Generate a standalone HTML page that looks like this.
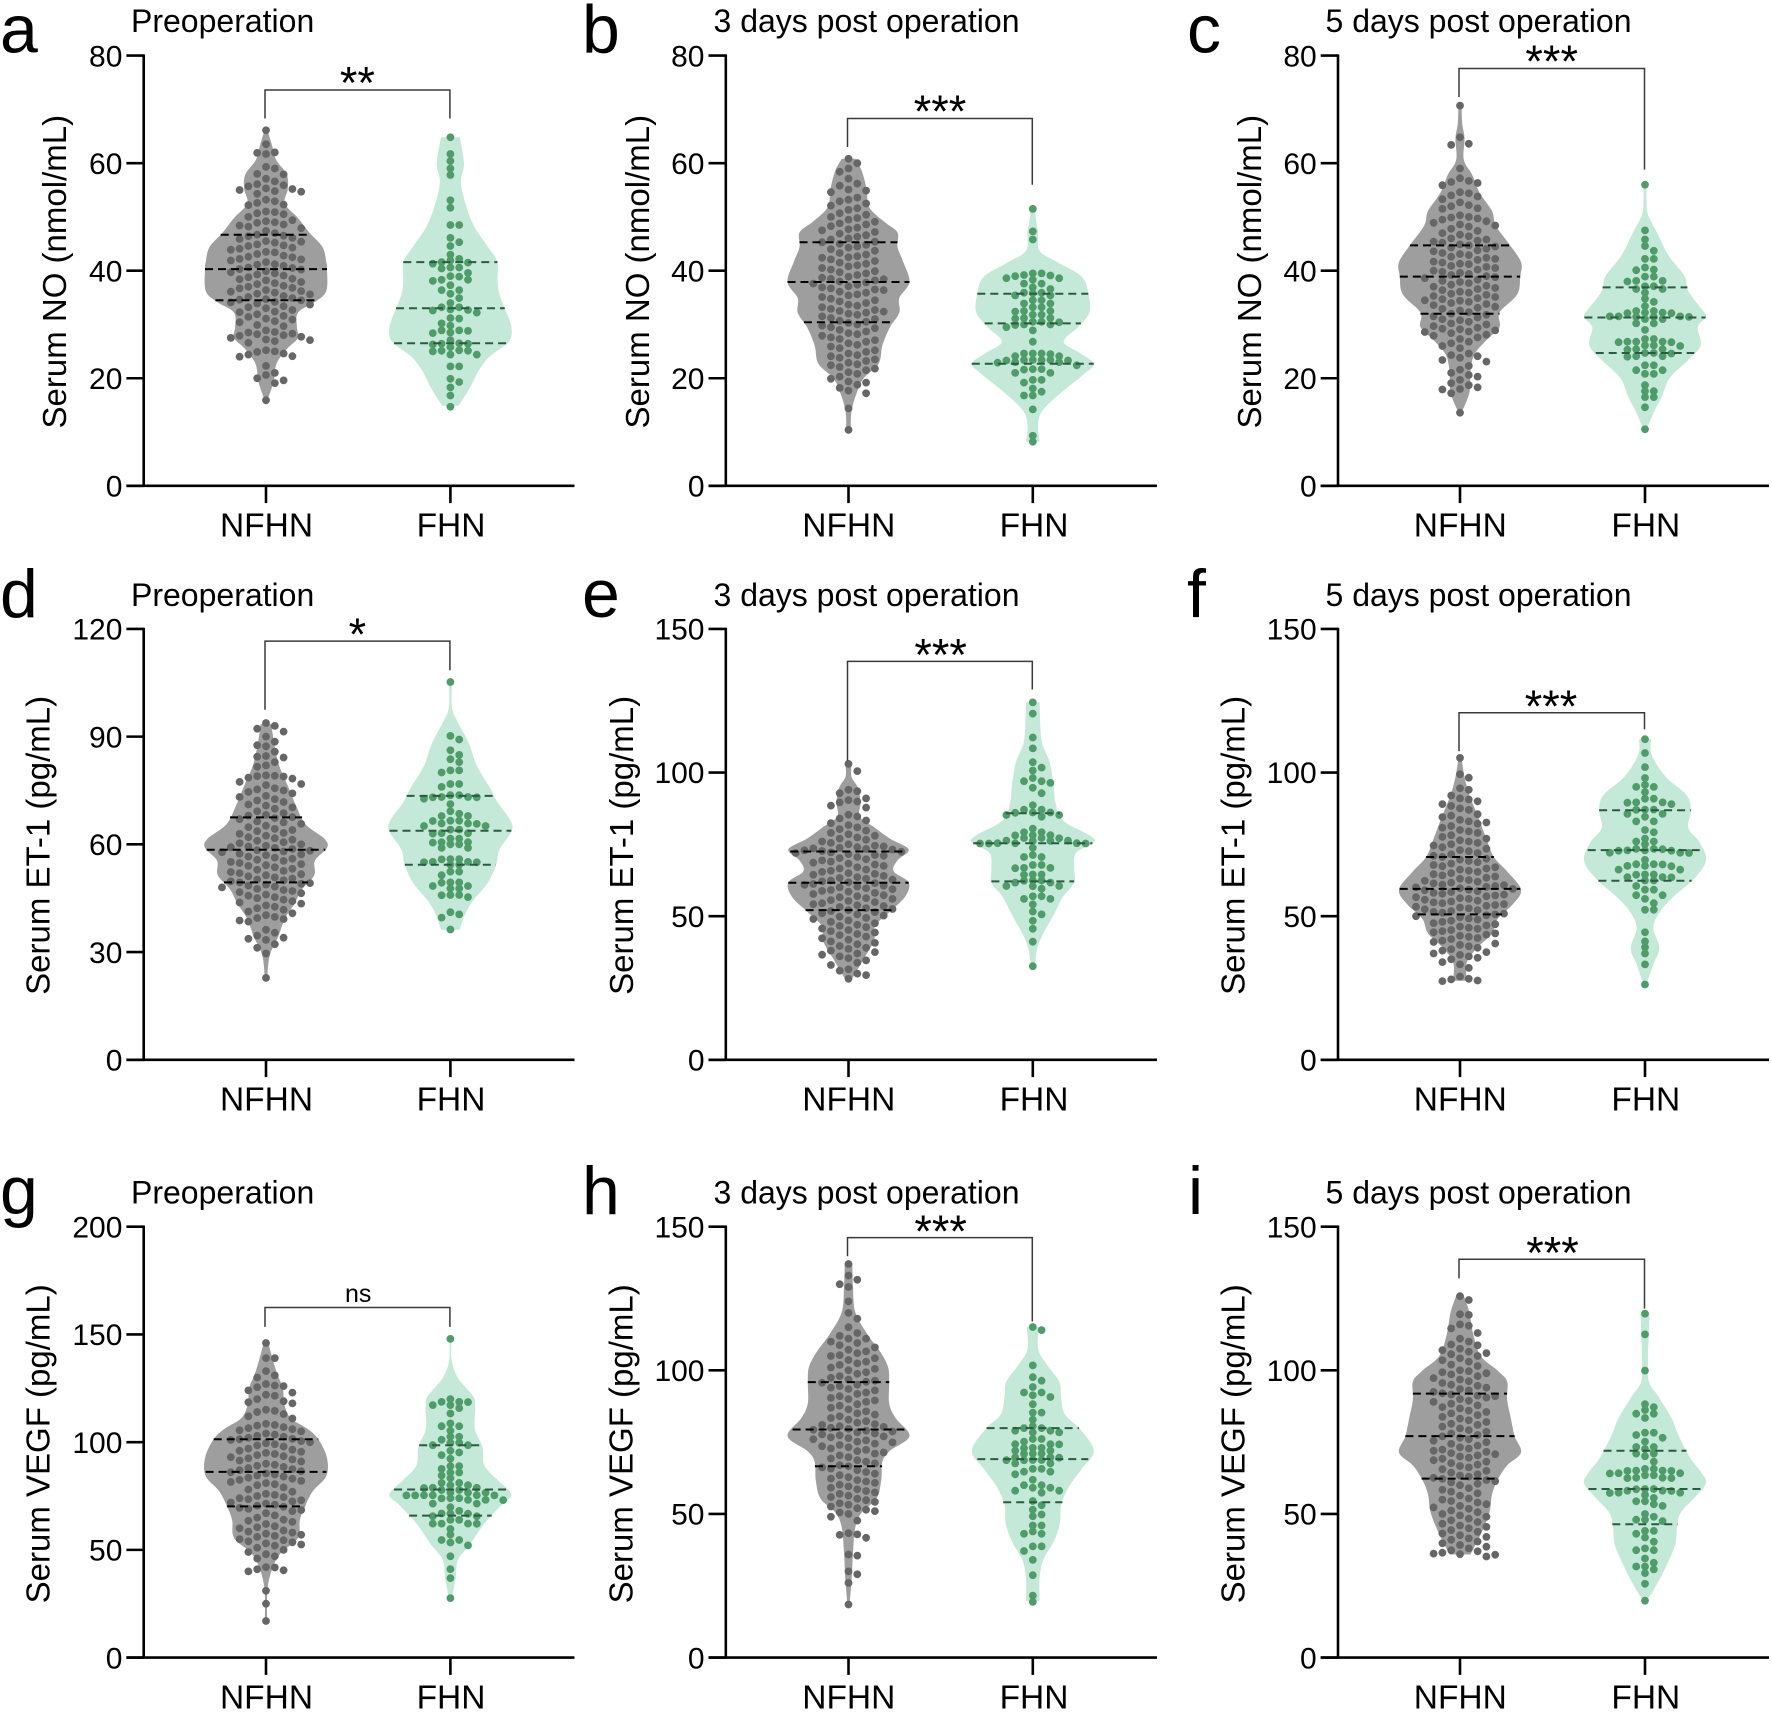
<!DOCTYPE html>
<html lang="en">
<head>
<meta charset="utf-8">
<title>Serum NO, ET-1 and VEGF violin plots</title>
<style>
html,body{margin:0;padding:0;background:#fff;}
svg{display:block;}
text{font-family:"Liberation Sans",Arial,sans-serif;fill:#000;}
.letter{font-size:68px;}
.title{font-size:32px;}
.ytitle{font-size:33px;text-anchor:middle;}
.cat{font-size:33.5px;text-anchor:middle;}
.star{font-size:45px;text-anchor:middle;}
.ns{font-size:25px;text-anchor:middle;}
.tick{font-size:30px;text-anchor:end;}
</style>
</head>
<body>
<svg id="figure" xmlns="http://www.w3.org/2000/svg" width="1772" height="1712" viewBox="0 0 1772 1712">
<rect width="1772" height="1712" fill="#fff"/>
<g id="marks"></g>

<text class="letter" x="0" y="52.7">a</text>
<text class="title" x="131" y="32.2">Preoperation</text>
<text class="ytitle" transform="translate(65.8 271.7) rotate(-90)">Serum NO (nmol/mL)</text>
<text class="cat" x="266.5" y="536.7">NFHN</text>
<text class="cat" x="451" y="536.7">FHN</text>
<text class="star" x="357.4" y="98.3">**</text>

<text class="letter" x="582" y="52.7">b</text>
<text class="title" x="713.5" y="32.2">3 days post operation</text>
<text class="ytitle" transform="translate(649 271.7) rotate(-90)">Serum NO (nmol/mL)</text>
<text class="cat" x="848.8" y="536.7">NFHN</text>
<text class="cat" x="1034" y="536.7">FHN</text>
<text class="star" x="940" y="127">***</text>

<text class="letter" x="1187" y="52.7">c</text>
<text class="title" x="1325.5" y="32.2">5 days post operation</text>
<text class="ytitle" transform="translate(1261 271.7) rotate(-90)">Serum NO (nmol/mL)</text>
<text class="cat" x="1460.3" y="536.7">NFHN</text>
<text class="cat" x="1645.8" y="536.7">FHN</text>
<text class="star" x="1551.7" y="77">***</text>

<text class="letter" x="0" y="617">d</text>
<text class="title" x="131" y="605.9">Preoperation</text>
<text class="ytitle" transform="translate(49.7 845.4) rotate(-90)">Serum ET-1 (pg/mL)</text>
<text class="cat" x="266.5" y="1110.7">NFHN</text>
<text class="cat" x="451" y="1110.7">FHN</text>
<text class="star" x="357.4" y="650">*</text>

<text class="letter" x="582" y="617">e</text>
<text class="title" x="713.5" y="605.9">3 days post operation</text>
<text class="ytitle" transform="translate(633 845.4) rotate(-90)">Serum ET-1 (pg/mL)</text>
<text class="cat" x="848.8" y="1110.7">NFHN</text>
<text class="cat" x="1034" y="1110.7">FHN</text>
<text class="star" x="940.6" y="670.5">***</text>

<text class="letter" x="1187" y="617">f</text>
<text class="title" x="1325.5" y="605.9">5 days post operation</text>
<text class="ytitle" transform="translate(1244.7 845.4) rotate(-90)">Serum ET-1 (pg/mL)</text>
<text class="cat" x="1460.3" y="1110.7">NFHN</text>
<text class="cat" x="1645.8" y="1110.7">FHN</text>
<text class="star" x="1551" y="721.8">***</text>

<text class="letter" x="0" y="1214">g</text>
<text class="title" x="131" y="1203.3">Preoperation</text>
<text class="ytitle" transform="translate(49.7 1443.8) rotate(-90)">Serum VEGF (pg/mL)</text>
<text class="cat" x="266.5" y="1708.5">NFHN</text>
<text class="cat" x="451" y="1708.5">FHN</text>
<text class="ns" x="358.2" y="1302">ns</text>

<text class="letter" x="582" y="1214">h</text>
<text class="title" x="713.5" y="1203.3">3 days post operation</text>
<text class="ytitle" transform="translate(632.5 1443.8) rotate(-90)">Serum VEGF (pg/mL)</text>
<text class="cat" x="848.8" y="1708.5">NFHN</text>
<text class="cat" x="1034" y="1708.5">FHN</text>
<text class="star" x="940.6" y="1247">***</text>

<text class="letter" x="1188" y="1214">i</text>
<text class="title" x="1325.5" y="1203.3">5 days post operation</text>
<text class="ytitle" transform="translate(1244.7 1443.8) rotate(-90)">Serum VEGF (pg/mL)</text>
<text class="cat" x="1460.3" y="1708.5">NFHN</text>
<text class="cat" x="1645.8" y="1708.5">FHN</text>
<text class="star" x="1552.5" y="1268.3">***</text>
</svg>

<script>
/* Tick labels */
const ticksNO = [0, 20, 40, 60, 80];
const ticksET120 = [0, 30, 60, 90, 120];
const ticksOf150 = [0, 50, 100, 150];
const ticksOf200 = [0, 50, 100, 150, 200];

/* Panel a */
const aNfhnDots = [66.1,63.5,62,61.9,61.7,59.3,59,58,57.9,57.1,56.6,56.1,55.9,55.7,55.3,55.2,55,54.8,54.7,54.3,53.2,52.9,52.6,52.3,52.2,51,50.9,50.7,50.5,50,49.4,49.2,49,48.9,48.6,48.4,48.2,47.9,47.4,47,46.7,46.5,46.4,46.1,45.9,45.5,45.4,45.2,44.9,44.7,44.6,44.3,44.1,43.9,43.5,43.4,43.1,42.8,42.6,42.5,42.2,42.1,41.9,41.6,41.2,41.1,40.9,40.6,40.5,40.3,40.2,39.9,39.7,39.5,39.3,39.1,38.8,38.5,38.4,38.2,37.9,37.7,37.5,37.2,37,36.8,36.7,36.4,36.2,36.1,35.9,35.7,35.6,35.3,35.1,34.9,34.7,34.6,34.5,34.2,34.1,33.9,33.7,33.4,33.2,33,32.7,32.4,32.3,31.9,31.6,31.4,31.1,30.9,30.6,30.4,29.9,29.7,28.9,28.6,28.5,28.3,28.2,28,27.9,27.7,27.5,27.2,27.1,26.9,26.6,25.2,25,24.9,24.6,24.4,24.1,24,22.3,21,20.6,20,19.6,19.1,15.9];
const aNfhnLevels = [66.1,63.3,60.6,57.9,55.2,52.5,49.8,47.1,44.4,41.7,40.3,36.2,34.2,32.2,29.5,27.5,25.4,22.7,19.3,16];
const aNfhnDensity = [4,16,27,55,58,50,85,115,150,160,162,160,130,85,82,85,55,28,20,4];
const aNfhnQuartiles = [46.7,40.3,34.5];
const aFhnDots = [64.8,61.7,60.4,59,57.8,53.1,51.7,48.5,48.5,46.1,45.3,44.6,43,42.2,41.9,41.6,41.3,41.5,40.6,40.6,40.4,39.6,39,38.9,38.3,38.3,38.1,37.3,36.4,36.4,35.7,34.9,34,33.2,33.2,32.8,32.7,32.6,32.2,31.2,31.1,30.2,29.8,28.9,28.9,28.8,28.5,28.4,27.1,26.5,26.4,26.4,26.3,25.8,25.2,25.1,25.1,25,24.4,24.4,22.2,22.2,19.9,19.3,18.3,16.8,14.7];
const aFhnLevels = [64.8,59.9,56.5,52.5,48.4,44.4,41.6,38.3,35.6,32.9,29.5,26.8,24.1,21.4,18,14.9];
const aFhnDensity = [25,36,28,40,62,100,125,125,130,145,162,155,105,75,50,22];
const aFhnQuartiles = [41.6,33,26.5];
const aBracket = [73.6,68.3,68.3];

/* Panel b */
const bNfhnDots = [60.8,60,59,58.4,57.1,56.2,55.8,55.1,54.9,54.6,53.6,53.2,52.9,52.5,52.1,51.6,51.3,50.7,50.4,50,49.8,49.5,49.1,48.8,48.6,48.3,48,47.7,47.5,47.2,46.9,46.6,46.3,46,45.8,45.4,45.3,45,44.8,44.5,44.3,44,43.7,43.3,43,42.7,42.5,42.4,42.1,41.8,41.5,41.3,41,40.8,40.5,40.2,39.9,39.7,39.5,39.2,38.9,38.7,38.5,38.4,38.2,38,37.8,37.6,37.4,37.1,36.9,36.7,36.5,36.4,36.1,35.9,35.6,35.4,35.1,34.8,34.5,34.3,34,33.7,33.5,33.2,32.9,32.7,32.5,32.4,32.2,32,31.8,31.5,31.2,31,30.7,30.5,30.3,30,29.8,29.5,29.3,29,28.7,28.4,28.2,27.9,27.6,27.3,27.1,26.8,26.5,26.2,25.9,25.6,25.2,24.9,24.6,24.3,24.1,23.8,23.5,23.2,22.9,22.6,22.4,22.1,21.8,21.5,21.1,20.8,20.3,19.9,19.4,19.2,18.8,18.2,17.7,17.2,14.4,10.4];
const bNfhnLevels = [60.8,58.6,55.2,51.8,49.1,47.1,44.4,41.7,37.9,34.9,32.2,29.5,26.1,22.7,20,17.3,13.9,10.5];
const bNfhnDensity = [18,35,48,55,95,130,130,145,162,135,135,110,90,80,40,22,8,6];
const bNfhnQuartiles = [45.3,37.9,30.4];
const bFhnDots = [51.5,47.3,45.8,39.5,39.5,39.2,39.1,39,38.6,38.6,38.3,37.6,37.6,36.9,36.6,35.9,35.9,35.8,35.4,35.4,34.5,34.5,33.9,33.9,33.2,33.2,32.5,32.5,32.4,31.8,31.8,31.2,31.2,31.1,30.5,30.5,30.4,30,30,29.9,29.5,28.9,26.8,24.6,24.6,24.6,24.5,24.1,24.1,23.4,23.4,23.4,23.4,23.3,23.3,23,23,22.9,22.4,21.7,21.7,21.6,21,21,19.7,19.7,19.2,18.1,17.5,16.8,16.8,14.2,9.3,8.2];
const bFhnLevels = [51.8,49.8,47.1,43.7,41.6,38.9,35.6,32.2,29.5,26.8,24.7,22.7,20.7,17.3,13.9,11.2,8.2];
const bFhnDensity = [8,8,14,18,65,130,148,150,120,82,125,162,135,75,25,14,18];
const bFhnQuartiles = [35.7,30.2,22.7];
const bBracket = [68.3,63,56];

/* Panel c */
const cNfhnDots = [70.7,64.8,63.6,63.4,59,57.2,56.7,56.5,56.3,55.9,54.6,54.4,54,53.8,53.3,52.7,52.2,52,51.6,51.5,50.3,50,49.9,49.7,49.5,49.2,48.9,48.6,48.4,48.2,47.8,47.4,47,46.7,46.4,46,45.8,45.6,45.4,45.2,44.9,44.7,44.5,44.3,44.1,43.8,43.6,43.3,43.1,42.9,42.6,42.4,42.2,42,41.7,41.5,41.3,41.2,40.9,40.7,40.5,40.2,40,39.8,39.6,39.4,39.2,39,38.8,38.6,38.3,38.1,37.9,37.7,37.4,37.2,37,36.8,36.6,36.4,36.1,35.9,35.7,35.5,35.3,35.1,34.9,34.7,34.5,34.4,34.2,34,33.8,33.6,33.3,33.1,32.9,32.6,32.3,32,31.8,31.5,31.3,31,30.8,30.5,30.2,30,29.7,29.4,29.2,29.1,28.9,28.7,28.6,28.4,28.1,27.9,27.6,27.3,26.8,26.5,26,25.6,24.6,24.3,24.1,23.8,23.4,23.1,22.3,21.6,21,20.6,20.3,19.7,19.1,18.7,18.3,18,17.9,17.2,13.6];
const cNfhnLevels = [70.7,67.3,64.6,60.6,57.9,54.5,51.1,48.4,45,41.6,38.9,35.6,32.2,29.5,27.1,24.4,21.4,17.3,13.6];
const cNfhnDensity = [4,6,12,10,32,52,85,95,130,162,160,152,105,105,70,38,28,25,4];
const cNfhnQuartiles = [44.7,38.9,32];
const cFhnDots = [56,47.5,45.8,44.6,43.7,42.2,42.2,40.6,40.2,40.1,38.9,38.9,38.1,38.1,38,37.1,37.1,36.6,36.6,35.9,34.8,34.2,33.4,32.5,32.5,32.2,32.2,32.1,32.1,31.5,31.5,31.5,31.4,31.4,31.4,31,31,30.2,30.2,29,27.3,27.3,26.8,26.8,26.8,26.7,26.7,26.1,26.1,26,25.4,25.4,25.3,24.7,24.7,24.6,24.1,24.1,24,22.4,22.4,21.5,21.5,20.8,20.8,18.7,17.6,17.6,16.5,16.5,14.6,10.5];
const cFhnLevels = [56,53.1,50.4,47.1,42.9,39,36.2,32.9,31.4,29.5,26.1,23.4,20,16.6,13.9,10.5];
const cFhnDensity = [4,4,8,32,62,105,115,150,162,140,148,115,65,45,25,4];
const cFhnQuartiles = [36.9,31.3,24.7];
const cBracket = [77.6,72.3,58.8];

/* Panel d */
const dNfhnDots = [93.8,93,92.2,91.4,90,88.6,87.6,87.3,85.8,84.6,84.4,84.2,82.9,82,81.6,79.2,79.1,79,78.9,78.6,78.3,77.4,76.8,76.5,75.6,75.3,75,74.6,74.2,73.5,73.2,72.6,72.2,71.8,71.1,70.8,70.3,69.9,69.2,68.7,68.2,68,67.6,67.3,67,66.4,66.1,65.7,65.2,64.8,64.3,64,63.7,63.2,62.9,62.4,62,61.7,61.3,61,60.6,60.3,60,59.6,59.4,59.2,59,58.7,58.4,58.2,58,57.8,57.4,57.2,57,56.6,56.3,56,55.7,55.4,55.1,54.8,54.5,54.2,54,53.6,53.2,52.9,52.6,52.3,52,51.7,51.4,51.1,50.8,50.5,50.2,50,49.7,49.4,49.2,49,48.8,48.5,48.2,48,47.6,47.3,47,46.7,46.4,46,45.7,45.3,45,44.6,44.2,43.8,43.5,43,42.6,42.2,41.8,41.3,40.8,40.3,39.8,39.5,39.2,38.8,38.5,36.2,35.4,34.6,34,33.7,33.4,32.2,31.2,29.6,22.8];
const dNfhnLevels = [93.5,87.9,81.9,75.8,70.7,65.6,61.6,59,55.5,51.4,47.4,43.3,39.3,34.2,29.1,22.8];
const dNfhnDensity = [14,22,35,60,80,105,155,162,130,128,95,75,50,32,10,3];
const dNfhnQuartiles = [67.5,58.5,49.4];
const dFhnDots = [105.2,90.2,89.2,86.2,84.9,83.7,82.9,80.6,80.6,80,76.8,76.8,76,73.7,73.7,73.2,73.2,73.1,73.1,72.7,71.2,69.2,68.5,67.9,67.9,66.6,66.6,66.5,65.8,65.8,65.7,65.1,65.1,64.1,64.1,63.1,63.1,63,61.6,61.6,60.6,60.6,60.5,60,60,59,59,55.9,55.9,55.8,55.1,55.1,55,55,54.3,54.3,52.4,52.4,51.4,49.4,49.4,49.3,48.4,48.4,47.7,47.7,45.9,45.9,45.8,45.3,41.1,40.5,39.6,36.3];
const dFhnLevels = [105.2,98.1,94,87.9,81.9,75.8,71.7,66.6,63.6,58.5,54.5,49.4,44.3,40.3,36.2];
const dFhnDensity = [4,4,20,50,70,105,125,160,162,130,122,100,60,38,25];
const dFhnQuartiles = [73.5,63.8,54.3];
const dBracket = [116.6,97.5,108.5];

/* Panel e */
const eNfhnDots = [103,100.5,94,93.5,92.8,91,90.4,89.9,89.6,88.5,87.8,85.3,84.7,84,83.3,82.4,81.7,80.9,80.3,79.8,79,78.5,78,77.4,77,76.6,76,75.5,75,74.5,74.3,74,73.8,73.6,73.4,73.2,72.9,72.7,72.4,72.2,72,71.6,71.3,71,70.6,70.2,69.8,69.4,69,68.6,68.3,68,67.5,67,66.6,66.2,65.8,65.4,65,64.7,64.4,64,63.6,63.3,63,62.7,62.4,62.1,61.8,61.5,61.2,60.9,60.6,60.3,60,59.7,59.4,59.1,58.8,58.5,58.1,57.7,57.3,57,56.6,56.3,56,55.6,55.3,54.9,54.5,54.2,53.8,53.5,53.2,52.8,52.5,52.1,51.8,51.4,51,50.6,50.2,49.8,49.4,49,48.5,48,47.5,47,46.6,46.2,45.7,45.2,44.8,44.3,43.8,43.4,42.9,42.3,41.8,41.2,40.7,40.2,39.6,39,38.6,38,37.5,37,36.6,36,35.4,34.6,33.8,33,31.5,31,30,29.5,28.2];
const eNfhnLevels = [103,98.5,94.7,89.6,84.6,80.8,77,73.2,69.4,65.6,61.7,56.7,51.6,46.5,41.5,35.1,27.5];
const eNfhnDensity = [8,8,25,32,30,70,110,160,130,120,160,150,110,70,68,40,6];
const eNfhnQuartiles = [72.5,61.6,52.1];
const eFhnDots = [124.4,120.5,112.2,108.4,103.6,101.7,100.7,98.1,97,97,96.4,94.7,92.8,88.6,87.1,87.1,86.1,86.1,86,85.2,85.2,84.6,80.5,79.2,79.2,78.2,78.2,78.1,77.2,77.2,77.1,76.3,76.3,76.2,76.2,75.4,75.4,75.4,75.3,75.3,75.3,73.8,71.3,70.6,70.6,67.8,67.8,66.8,66.8,66.7,64.5,64.5,64.4,62.4,62.4,62.3,61.7,61.7,60.5,60.5,60.4,59.6,56.9,56.9,56,56,54.1,51.6,50.6,48.4,45.6,41.1,32.6];
const eFhnLevels = [124.4,116.3,110,103.6,96,89.6,83.3,78.2,75.7,72,66.8,61.7,56.7,50.3,44,38.9,32.6];
const eFhnDensity = [18,20,25,45,55,60,80,150,162,115,110,110,80,55,28,12,5];
const eFhnQuartiles = [85.8,75.4,62.1];
const eBracket = [138.7,104.1,128.9];

/* Panel f */
const fNfhnDots = [105.1,99.4,98.2,94.5,94,92,91,90.6,90,89,88.4,87.5,87,85.5,85,84.5,83.5,83,82.6,82.2,81.4,80.8,80,79.5,79,78.2,77.6,77,76.4,76,75.5,75,74.6,74,73.5,73,72.6,72,71.5,71,70.6,70,69.7,69.2,68.8,68.3,67.8,67.4,67,66.6,66.2,65.8,65.4,65,64.6,64.2,63.8,63.4,63,62.6,62.3,62,61.7,61.4,61,60.8,60.5,60.2,60,59.7,59.5,59.2,59,58.7,58.4,58.1,57.8,57.5,57.2,56.9,56.6,56.3,56,55.7,55.4,55.1,54.8,54.5,54.2,53.9,53.6,53.3,53,52.7,52.4,52.1,51.8,51.5,51.2,50.9,50.6,50.3,50,49.6,49.2,48.8,48.4,48,47.6,47.2,46.8,46.4,46,45.6,45.2,44.8,44.4,44,43.6,43.2,42.8,42.4,42,41.5,41,40.5,40,39.5,39,38.5,38,37.5,37,36.5,36,35.5,35,34,33.2,32,29,28.2,28,27.6,27.4];
const fNfhnLevels = [105.1,98.5,92.2,84.6,77,70.6,65.6,59.2,54.1,49.1,44,38.9,33.9,27.5];
const fNfhnDensity = [4,12,25,48,70,90,125,162,140,100,85,45,18,18];
const fNfhnQuartiles = [70.6,59.5,50.6];
const fFhnDots = [111.6,106.8,101.9,98.1,95.7,95,95,93.2,90.9,90.9,89.6,89.6,89.5,89,87.1,87.1,87,85.6,85.6,84.6,83,83,80,79.2,77,76,76,75,73.4,73.4,73.3,72.9,72.9,72.8,72.8,72.1,72.1,72,69.6,68.1,68.1,68,67.5,67.5,67.4,66.2,66.2,64.5,64.5,64.4,63.6,63.6,63.5,62.4,62.4,60.5,59.2,59.2,57.3,57.3,56,54.5,52.2,52.2,44.4,41.2,39.2,37,33.2,26.2];
const fFhnLevels = [111.6,106.1,98.5,92.2,87.1,80.8,75.7,69.4,63,56.7,51.6,45.9,38.9,33.2,26.2];
const fFhnDensity = [16,18,55,110,122,115,145,162,130,75,40,22,38,22,4];
const fFhnQuartiles = [86.9,73,62.3];
const fBracket = [120.8,107.4,115];

/* Panel g */
const gNfhnDots = [146,139,139,133,131,130,127,126.3,126,125.5,124,123,122,121.5,120,119,118.5,118,115,114.5,114,113,112,111,108.5,108,107.7,107,106.5,106,105.5,105,104,103.5,103,102.5,102,101.5,101.3,101,100.5,100,99.5,99,98.5,98,97,96.5,96,95.5,95,94.5,94,93.5,93,92.5,92,91.5,91,90,89.5,89,88.5,88,87.5,87,86.5,86,85.5,85,84.5,84,83.5,83,82.5,82,81.5,81,80.5,80,79,78,77,76,75.5,75,74.5,74,73.5,73,72.5,72,71.5,71,70.5,70,69.5,69,68.5,68,67,66,65,64,63.5,63,62,61,60.5,60,59,58.5,58,57.5,57,56.5,56,55,54.5,54,53.5,53,52.5,52,51,50,49,48,47,46,42,41.8,41,40.5,40,31,25,17];
const gNfhnLevels = [146.2,138.3,131.5,125,118,111.2,106.2,101.1,92.6,84.2,77.4,70.7,63.9,55.5,48.7,41.9,31.8,17.4];
const gNfhnDensity = [6,18,30,45,48,65,110,140,162,160,125,105,90,85,40,18,4,3];
const gNfhnQuartiles = [101.3,86.2,70.2];
const gFhnDots = [147.9,120,118.7,118.7,118.6,117.2,117.2,115.8,113.3,108.7,107.4,107.4,105.3,102.5,102.5,101.1,99.7,99.7,98.6,98.6,96,95.2,94,92.3,88.9,88.9,87.6,85.9,85.9,84.5,83.2,81.1,81.1,80,80,78.8,78.8,78.7,77.8,77.8,76.6,76.6,76.5,75.4,75.4,75.4,75.3,75.3,75.3,74,74,73.9,73.2,73.2,73.1,71.5,71.5,69.8,68.1,66.9,66.9,66.8,65.6,65.6,63.9,63.9,62.2,62.2,62.2,62.1,59.7,57.1,54.6,54.6,53.4,52.1,47,41.1,36.9,27.6];
const gFhnLevels = [148,138.3,129.8,121.4,116.3,106.2,97.7,89.3,82.5,75.7,70.7,62.2,52.1,45.3,36.9,27.6];
const gFhnDensity = [3,3,20,60,66,65,85,90,125,162,135,90,50,20,14,4];
const gFhnQuartiles = [98.6,78,65.9];
const gBracket = [162.5,153.5,153.5];

/* Panel h */
const hNfhnDots = [137,133,131.5,130,129,124,120,118,115,113,112,111,111,110,109.5,108.8,108,107.2,106.6,106,105.3,105,104.2,103.6,103,102.4,101.9,101,100.5,100,99.3,98.8,98,97.4,96.8,96.4,96,95.7,95,94.5,94,93.5,93,92.3,91.8,91,90.4,90,89.5,89,88.2,87.7,87,86.4,85.7,85,84.6,84,83.4,82.8,82.3,81.8,81.3,81,80.6,80.3,80,79.6,79.3,79,78.7,78.4,78,77.7,77.4,77,76.7,76.4,76,75.6,75.2,74.9,74.5,74,73.6,73.2,72.8,72.3,71.9,71.4,71,70.4,69.8,69.3,68.7,68.2,67.6,67,66.6,66.2,65.8,65.2,64.6,64,63.5,62.8,62.3,61.8,61.3,60.8,60.2,59.6,59.1,58.6,58,57.5,57,56.4,55.9,55.3,54.8,54.2,53.7,53.2,52.6,52,51.5,51,50.5,50,49,47.7,43.3,42.9,42.7,41.7,35.9,35.5,30,29,26,18.5];
const hNfhnLevels = [137.1,129.1,120.2,112.6,106.3,101.2,96.1,88.5,83.4,77.1,72,68.2,61.9,55.5,50.5,45.4,36.5,26.4,18.5];
const hNfhnDensity = [10,12,18,50,85,105,108,108,125,162,110,90,87,75,35,18,12,8,3];
const hNfhnQuartiles = [95.9,79.4,66.6];
const hFhnDots = [115.1,114,101.7,97.6,96.4,94.2,92.3,92.3,91.3,90.7,88.2,85.3,85.3,82.8,80.6,79.9,79.9,79,79,78.4,78.4,76.1,76.1,75.2,74.3,74.3,74.2,73,73,72.9,72,72,71,71,70.9,69.7,69.7,69.6,68.8,68.8,68.7,68.7,67.6,67.6,65.7,65.7,64.7,64.7,63.8,61.9,60,60,59.1,59.1,58.1,58.1,57.4,54.5,53,51.5,49.8,49.2,46,46,43.9,43.1,43.1,38.7,38.7,37.1,34,28.7,21.6,19.4];
const hFhnLevels = [115.1,107.5,102.4,96.1,91,84.7,79.6,72,65.7,59.3,53,46.7,40.3,34,27.6,19.8];
const hFhnDensity = [16,14,35,70,75,85,125,162,130,95,75,72,55,28,18,18];
const hFhnQuartiles = [79.9,69.1,54.1];
const hBracket = [146.2,139.7,117];

/* Panel i */
const iNfhnDots = [125.8,124.5,119.5,119.3,116,115.5,114.6,113,111,110,109,108.7,107.5,107,106.5,106,105.6,105,104.2,103.5,103,102,101.5,100,99.7,99.3,99,98.6,98,97.3,96.8,96.2,95.6,95,94.6,94,93.5,93,92.5,92,91.6,91.2,91,90.5,90,89.4,89,88.4,87.8,87.2,86.7,86,85.5,85,84.4,83.8,83.2,82.6,82,81.4,81,80.4,79.8,79.2,78.6,78,77.5,77,76.5,76,75.5,75,74.4,73.8,73.2,72.8,72.4,72,71.6,71.2,70.8,70.4,70,69.6,69.2,68.7,68.2,67.7,67.2,66.7,66.2,65.6,65,64.4,63.8,63.4,63,62.6,62.2,61.8,61.4,61,60.5,60,59,58.4,57.8,57.2,56.4,55.4,55,54.5,54,53.4,52.8,52.3,51.8,51.2,50.6,50,49.5,49,48.4,47.8,47.2,46.6,46,45.5,45,44.4,43.8,43.2,42.6,42,41.5,41,40.4,39.8,39.2,38.6,38,37.4,37,36.5,36.2,36,35.8,35.2];
const iNfhnLevels = [126,120.2,112.6,105,99.9,96.1,89.8,83.4,77.1,71.4,66.9,61.9,56.8,50.5,42.9,35.9];
const iNfhnDensity = [10,25,35,55,100,125,125,135,145,162,125,100,85,78,55,28];
const iNfhnQuartiles = [91.9,77.1,62.3];
const iFhnDots = [119.7,112.5,99.9,88.2,87.2,86.2,84.9,84.9,83.4,78.3,78.3,77.5,76.5,75.2,73.3,73.3,72.6,71,71,70.1,68.2,65.7,65.7,65.1,65.1,65,65,64.2,64.2,64.1,63.5,63.5,62.6,62.6,62.5,62.5,58.7,58.7,58.6,58.1,58.1,58,57.4,57.4,57.3,56.6,55.6,54.4,54.4,53.4,52.8,50,49,48,48,47.5,44.1,44.1,43.1,41.8,40.3,38,37.4,37.4,34.5,33,31.7,31.7,30.7,29.4,25.7,19.8];
const iFhnLevels = [119.7,112.6,103.7,96.1,91,83.4,77.1,69.5,64.4,60.6,55.5,50.5,45.4,39.1,31.5,25.1,19.8];
const iFhnDensity = [12,10,8,10,35,70,90,120,150,162,130,95,85,80,55,30,5];
const iFhnQuartiles = [72,58.7,46.4];
const iBracket = [138.7,132,121.5];

const panelNames = ['a','b','c','d','e','f','g','h','i'];
const panelTicks = [ticksNO,ticksNO,ticksNO,ticksET120,ticksOf150,ticksOf150,ticksOf200,ticksOf150,ticksOf150];
const panelBrackets = [aBracket,bBracket,cBracket,dBracket,eBracket,fBracket,gBracket,hBracket,iBracket];
const nfhnDots = [aNfhnDots,bNfhnDots,cNfhnDots,dNfhnDots,eNfhnDots,fNfhnDots,gNfhnDots,hNfhnDots,iNfhnDots];
const nfhnLevels = [aNfhnLevels,bNfhnLevels,cNfhnLevels,dNfhnLevels,eNfhnLevels,fNfhnLevels,gNfhnLevels,hNfhnLevels,iNfhnLevels];
const nfhnDensity = [aNfhnDensity,bNfhnDensity,cNfhnDensity,dNfhnDensity,eNfhnDensity,fNfhnDensity,gNfhnDensity,hNfhnDensity,iNfhnDensity];
const nfhnQuartiles = [aNfhnQuartiles,bNfhnQuartiles,cNfhnQuartiles,dNfhnQuartiles,eNfhnQuartiles,fNfhnQuartiles,gNfhnQuartiles,hNfhnQuartiles,iNfhnQuartiles];
const fhnDots = [aFhnDots,bFhnDots,cFhnDots,dFhnDots,eFhnDots,fFhnDots,gFhnDots,hFhnDots,iFhnDots];
const fhnLevels = [aFhnLevels,bFhnLevels,cFhnLevels,dFhnLevels,eFhnLevels,fFhnLevels,gFhnLevels,hFhnLevels,iFhnLevels];
const fhnDensity = [aFhnDensity,bFhnDensity,cFhnDensity,dFhnDensity,eFhnDensity,fFhnDensity,gFhnDensity,hFhnDensity,iFhnDensity];
const fhnQuartiles = [aFhnQuartiles,bFhnQuartiles,cFhnQuartiles,dFhnQuartiles,eFhnQuartiles,fFhnQuartiles,gFhnQuartiles,hFhnQuartiles,iFhnQuartiles];

(function () {
  const NS = 'http://www.w3.org/2000/svg';
  const root = document.getElementById('marks');
  const axisLeft = [143.7, 725.8, 1338];
  const axisEnd = [574.5, 1157, 1769];
  const groupCenter = [[266, 450.4], [848.5, 1032.8], [1460, 1645]];
  const rowTop = [55.6, 628.9, 1226.7];
  const rowBottom = [485.8, 1059.8, 1657.6];
  const TICK = 17.3;
  const DOT_R = 3.9;
  const COL_STEP = 8.8;
  const MAX_HALF = 61;
  const DENSITY_FULL = 162;
  const styles = [
    { fill: '#9e9e9f', dot: '#666666', dash: '#000000', gap: 9 },
    { fill: '#c4e9d8', dot: '#4f9b69', dash: '#2c5a40', gap: 5.5 }
  ];

  function mk(tag, attrs, parent) {
    const el = document.createElementNS(NS, tag);
    for (const k in attrs) el.setAttribute(k, attrs[k]);
    parent.appendChild(el);
    return el;
  }

  function densityAt(levels, density, v) {
    for (let i = 0; i < levels.length - 1; i++) {
      if (v <= levels[i] && v >= levels[i + 1]) {
        const t = (levels[i] - v) / (levels[i] - levels[i + 1]);
        return density[i] + t * (density[i + 1] - density[i]);
      }
    }
    return 0;
  }

  function smoothSegments(pts) {
    let d = '';
    for (let i = 0; i < pts.length - 1; i++) {
      const p0 = pts[Math.max(i - 1, 0)], p1 = pts[i], p2 = pts[i + 1], p3 = pts[Math.min(i + 2, pts.length - 1)];
      const c1x = p1[0] + (p2[0] - p0[0]) / 6, c1y = p1[1] + (p2[1] - p0[1]) / 6;
      const c2x = p2[0] - (p3[0] - p1[0]) / 6, c2y = p2[1] - (p3[1] - p1[1]) / 6;
      d += 'C' + c1x.toFixed(1) + ' ' + c1y.toFixed(1) + ' ' + c2x.toFixed(1) + ' ' + c2y.toFixed(1) + ' ' + p2[0].toFixed(1) + ' ' + p2[1].toFixed(1);
    }
    return d;
  }

  function swarmColumns(values, yScale, gap) {
    const sorted = values.slice().sort(function (a, b) { return b - a; });
    const cols = {};
    return sorted.map(function (v) {
      const y = yScale(v);
      for (let k = 0; k < 40; k++) {
        const c = k === 0 ? 0 : (k % 2 ? (k + 1) / 2 : -k / 2);
        const used = cols[c] || (cols[c] = []);
        if (used.every(function (u) { return Math.abs(u - y) >= gap; })) {
          used.push(y);
          return { value: v, column: c };
        }
      }
      return { value: v, column: 0 };
    });
  }

  function drawGroup(g, cx, yScale, levels, density, dots, quartiles, st, label) {
    const xHalf = function (d) { return d / DENSITY_FULL * MAX_HALF; };
    const right = levels.map(function (v, i) { return [cx + xHalf(density[i]), yScale(v)]; });
    const left = levels.map(function (v, i) { return [cx - xHalf(density[i]), yScale(v)]; }).reverse();
    const d = 'M' + right[0][0].toFixed(1) + ' ' + right[0][1].toFixed(1) + smoothSegments(right) +
      'L' + left[0][0].toFixed(1) + ' ' + left[0][1].toFixed(1) + smoothSegments(left) + 'Z';
    const violin = mk('path', { d: d, fill: st.fill }, g);
    
    

    swarmColumns(dots, yScale, st.gap).forEach(function (p) {
      const dot = mk('circle', { cx: (cx + p.column * COL_STEP).toFixed(1), cy: yScale(p.value).toFixed(1), r: DOT_R, fill: st.dot }, g);
      
      
    });

    quartiles.forEach(function (q) {
      const h = xHalf(densityAt(levels, density, q));
      const line = mk('line', { x1: (cx - h).toFixed(1), x2: (cx + h).toFixed(1), y1: yScale(q).toFixed(1), y2: yScale(q).toFixed(1), stroke: st.dash, 'stroke-width': 2, 'stroke-dasharray': '8 5' }, g);
      
      
    });
  }

  panelNames.forEach(function (name, i) {
    const col = i % 3, row = Math.floor(i / 3);
    const ticks = panelTicks[i];
    const yMax = ticks[ticks.length - 1];
    const top = rowTop[row], bottom = rowBottom[row], ax = axisLeft[col];
    const yScale = function (v) { return bottom - (v / yMax) * (bottom - top); };
    const centers = groupCenter[col];

    const g = mk('g', {}, root);
    
    

    drawGroup(g, centers[0], yScale, nfhnLevels[i], nfhnDensity[i], nfhnDots[i], nfhnQuartiles[i], styles[0], 'nfhn');
    drawGroup(g, centers[1], yScale, fhnLevels[i], fhnDensity[i], fhnDots[i], fhnQuartiles[i], styles[1], 'fhn');

    const br = panelBrackets[i];
    const bracket = mk('path', {
      d: 'M' + (centers[0] - 1) + ' ' + yScale(br[1]).toFixed(1) + 'V' + yScale(br[0]).toFixed(1) + 'H' + (centers[1] - 0.5) + 'V' + yScale(br[2]).toFixed(1),
      fill: 'none', stroke: '#3a3a3a', 'stroke-width': 1.5
    }, g);
    
    

    const yAxis = mk('line', { x1: ax, x2: ax, y1: top - 1.2, y2: bottom + 1.2, stroke: '#000', 'stroke-width': 2.6 }, g);
    
    
    const xAxis = mk('line', { x1: ax - TICK, x2: axisEnd[col], y1: bottom, y2: bottom, stroke: '#000', 'stroke-width': 2.6 }, g);
    
    

    ticks.forEach(function (t) {
      const y = yScale(t);
      const tick = mk('line', { x1: ax - TICK, x2: ax, y1: y, y2: y, stroke: '#000', 'stroke-width': 2.6 }, g);
      
      
      const label = mk('text', { class: 'tick', x: ax - 21.3, y: y + 10.7 }, g);
      
      
      label.textContent = t;
    });

    centers.forEach(function (cx) {
      const tick = mk('line', { x1: cx, x2: cx, y1: bottom, y2: bottom + TICK, stroke: '#000', 'stroke-width': 2.6 }, g);
      
      
    });
  });
})();
</script>
</body>
</html>
